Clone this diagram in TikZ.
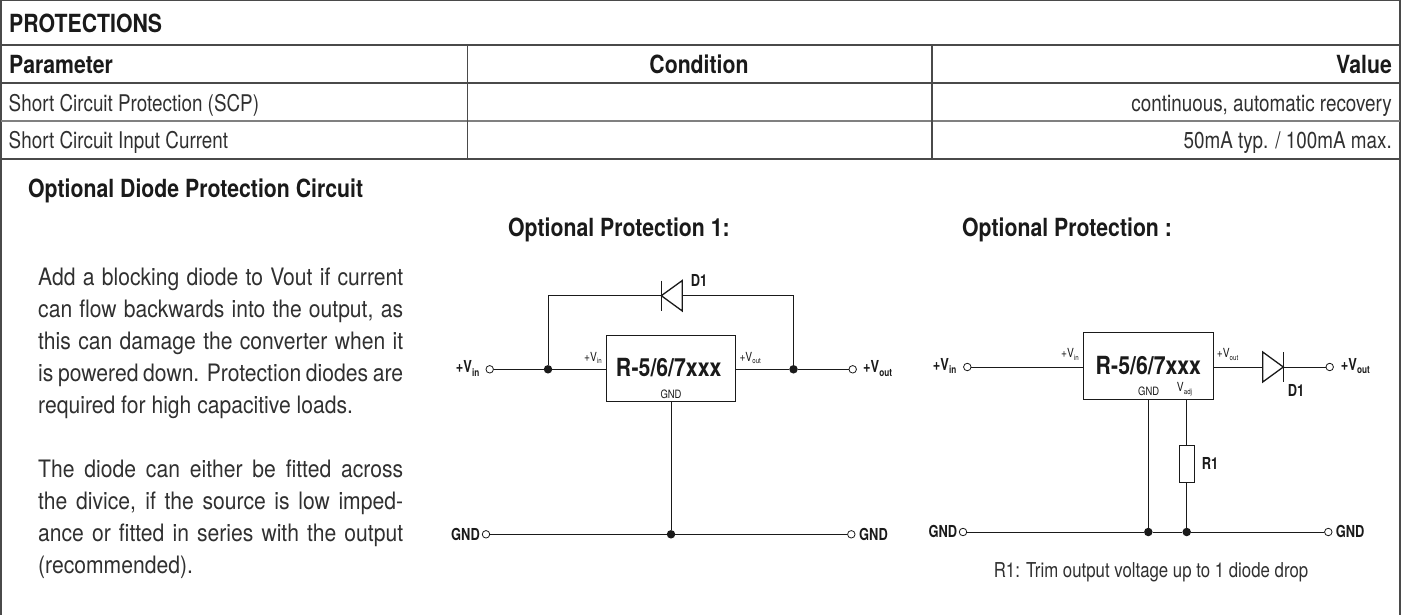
\documentclass[tikz,border=0pt]{standalone}
\usepackage{fontspec}
\setmainfont{TeX Gyre Heros}
\newfontfamily\semifont[FakeStretch=0.85]{TeX Gyre Heros Bold}
\newfontfamily\blkfont[FakeStretch=0.78]{TeX Gyre Heros Bold}
\newfontfamily\cellfont[FakeStretch=0.82]{TeX Gyre Heros}
\newfontfamily\parafont[FakeStretch=0.88]{TeX Gyre Heros}
\newcommand{\fsz}[1]{\fontsize{#1}{#1}\selectfont}
\newcommand{\vlabel}[1]{{\blkfont\fsz{16.5}+V\raisebox{-3.5pt}{\fsz{10.5}#1}}}
\newcommand{\vsmall}[1]{{\cellfont\fsz{12.5}+V\raisebox{-2.5pt}{\fsz{7.5}#1}}}
\definecolor{ink}{HTML}{1A1A1A}
\definecolor{soft}{HTML}{303030}
\definecolor{rule}{HTML}{4A4A4A}
\tikzset{
  frameline/.style={draw=rule,line width=1.2pt},
  wire/.style={draw=ink,line width=1pt},
  box/.style={draw=ink,line width=1pt,fill=white,inner sep=0pt},
  term/.style={circle,draw=ink,line width=.8pt,fill=white,minimum size=7.5pt,inner sep=0pt},
  dot/.style={circle,fill=ink,minimum size=8.5pt,inner sep=0pt},
  txt/.style={anchor=base west,inner sep=0pt,text=ink},
  txtr/.style={anchor=base east,inner sep=0pt,text=ink},
  txtc/.style={anchor=base,inner sep=0pt,text=ink},
  head/.style={font=\semifont\fsz{25}},
  cell/.style={font=\cellfont\fsz{23},text=soft},
  blk/.style={font=\blkfont\fsz{16.5}},
  pin/.style={font=\cellfont\fsz{11.5}},
}
\begin{document}
\begin{tikzpicture}[x=1pt,y=-1pt]
\useasboundingbox (0,0) rectangle (1410,615);
% table frame
\coordinate (tl) at (1,0); \coordinate (tr) at (1400,0);
\coordinate (bl) at (1,615); \coordinate (br) at (1400,615);
\coordinate (r1l) at (1,45); \coordinate (r1r) at (1400,45);
\coordinate (r2l) at (1,83); \coordinate (r2r) at (1400,83);
\coordinate (r3l) at (1,121); \coordinate (r3r) at (1400,121);
\coordinate (r4l) at (1,159); \coordinate (r4r) at (1400,159);
\coordinate (c1t) at (467.5,45); \coordinate (c1b) at (467.5,159);
\coordinate (c2t) at (932,45); \coordinate (c2b) at (932,159);
\draw[frameline] (bl) -- (tl) -- (tr) -- (br);
\draw[frameline] (r1l) -- (r1r);
\draw[frameline] (r2l) -- (r2r);
\draw[frameline,draw=rule!70] (r3l) -- (r3r);
\draw[frameline] (r4l) -- (r4r);
\draw[frameline] (c1t) -- (c1b);
\draw[frameline] (c2t) -- (c2b);
% table text
\node[txt,head] (title) at (9,33) {PROTECTIONS};
\node[txt,head] (h1) at (9,74) {Parameter};
\node[txtc,head] (h2) at (699,74) {Condition};
\node[txtr,head] (h3) at (1392,74) {Value};
\node[txt,cell] (a1) at (8.5,111.5) {Short Circuit Protection (SCP)};
\node[txtr,cell] (a3) at (1392,111.5) {continuous, automatic recovery};
\node[txt,cell] (b1) at (8.5,148.5) {Short Circuit Input Current};
\node[txtr,cell] (b3) at (1392,148.5) {50mA typ. / 100mA max.};
\node[txt,head] (sec) at (28,197.5) {Optional Diode Protection Circuit};
\node[txt,head] (p1) at (508,236) {Optional Protection 1:};
\node[txt,head] (p2) at (962,236) {Optional Protection :};
% paragraph
\node[anchor=base west,inner sep=0pt,text width=365pt,align=justify,text=soft] (para) at (38,285) {\parafont\fontsize{24}{32}\selectfont
Add a blocking diode to Vout if current\linebreak can flow backwards into the output, as\linebreak this can damage the converter when it\linebreak is powered down. Protection diodes are\linebreak
{\parfillskip=0pt plus 1fil\relax required for high capacitive loads.\par}
\vspace{32pt}
The diode can either be fitted across\linebreak the divice, if the source is low imped-\linebreak ance or fitted in series with the output\linebreak
{\parfillskip=0pt plus 1fil\relax (recommended).\par}};
% circuit 1
\node[box,minimum width=129.5pt,minimum height=66.5pt] (u1) at (671,368.7) {};
\node[txtc,font=\semifont\fsz{25}] (u1n) at (668.7,376) {R-5/6/7xxx};
\node[txtc,pin] (u1g) at (671,398) {GND};
\node[txt] (u1vi) at (584,361) {\vsmall{in}};
\node[txt] (u1vo) at (739.3,361) {\vsmall{out}};
\node[term] (i1) at (489.7,369.3) {};
\node[term] (o1) at (852.7,369.3) {};
\node[term] (gl1) at (486,534.3) {};
\node[term] (gr1) at (851.3,534.3) {};
\node[dot] (ji1) at (548,369.3) {};
\node[dot] (jo1) at (793.5,369.3) {};
\node[dot] (jg1) at (671,534.3) {};
\coordinate (ct1l) at (548,295.7);
\coordinate (ct1r) at (793.5,295.7);
\coordinate (d1k) at (661.3,295.7);
\coordinate (d1a) at (682.3,295.7);
\coordinate (d1at) at (682.3,280.5);
\coordinate (d1ab) at (682.3,311);
\coordinate (d1kt) at (661.3,280.5);
\coordinate (d1kb) at (661.3,311);
\draw[wire] (i1) -- (ji1) -- (i1-|u1.west);
\draw[wire] (jo1-|u1.east) -- (jo1) -- (o1);
\draw[wire] (ji1) -- (ct1l) -- (d1k);
\draw[wire] (jo1) -- (ct1r) -- (d1a);
\draw[wire] (u1.south) -- (jg1);
\draw[wire] (gl1) -- (jg1) -- (gr1);
\draw[wire,line width=1.3pt,line join=miter] (d1at) -- (d1k) -- (d1ab) -- cycle;
\draw[wire,line width=1.3pt] (d1kt) -- (d1kb);
\node[txt,blk] (d1l) at (690.7,286) {D1};
\node[txt] (l1vi) at (455.7,372.7) {\vlabel{in}};
\node[txt] (l1vo) at (863,372.7) {\vlabel{out}};
\node[txt,blk] (l1gl) at (451,540) {GND};
\node[txt,blk] (l1gr) at (859,540) {GND};
% circuit 2
\node[box,minimum width=129.7pt,minimum height=66.6pt] (u2) at (1148.2,366) {};
\node[txtc,font=\semifont\fsz{25}] (u2n) at (1148.3,374) {R-5/6/7xxx};
\node[txtc,pin] (u2g) at (1148.7,395.3) {GND};
\node[txtc] (u2a) at (1184.5,391.7) {{\cellfont\fsz{12.5}V\raisebox{-2.5pt}{\fsz{7.5}adj}}};
\node[txt] (u2vi) at (1061,357.7) {\vsmall{in}};
\node[txt] (u2vo) at (1216.7,357.7) {\vsmall{out}};
\node[term] (i2) at (967.3,367) {};
\node[term] (o2) at (1329.7,367) {};
\node[term] (gl2) at (963,532) {};
\node[term] (gr2) at (1328.3,532) {};
\node[dot] (jg2a) at (1148.3,532) {};
\node[dot] (jg2b) at (1186.7,532) {};
\node[box,minimum width=15pt,minimum height=37pt] (r1) at (1186.7,463.8) {};
\coordinate (u2p) at (1186.7,399.3);
\coordinate (u2q) at (1148.3,399.3);
\coordinate (d2a) at (1262.7,367);
\coordinate (d2k) at (1283.3,367);
\coordinate (d2at) at (1262.7,352);
\coordinate (d2ab) at (1262.7,382);
\coordinate (d2kt) at (1283.3,352);
\coordinate (d2kb) at (1283.3,382);
\draw[wire] (i2) -- (i2-|u2.west);
\draw[wire] (o2-|u2.east) -- (d2a);
\draw[wire] (d2k) -- (o2);
\draw[wire] (u2q) -- (jg2a);
\draw[wire] (u2p) -- (r1);
\draw[wire] (r1) -- (jg2b);
\draw[wire] (gl2) -- (jg2a) -- (jg2b) -- (gr2);
\draw[wire,line width=1.3pt,line join=miter] (d2at) -- (d2k) -- (d2ab) -- cycle;
\draw[wire,line width=1.3pt] (d2kt) -- (d2kb);
\node[txt,blk] (d2l) at (1287.7,396.7) {D1};
\node[txt,blk] (r1l) at (1201.7,469.3) {R1};
\node[txt] (l2vi) at (932.7,370) {\vlabel{in}};
\node[txt] (l2vo) at (1340.7,370) {\vlabel{out}};
\node[txt,blk] (l2gl) at (928.3,537.3) {GND};
\node[txt,blk] (l2gr) at (1335.7,537.3) {GND};
\node[txtc,font=\cellfont\fsz{20.5},text=soft] (note) at (1151,577) {R1: Trim output voltage up to 1 diode drop};
\end{tikzpicture}
\end{document}
